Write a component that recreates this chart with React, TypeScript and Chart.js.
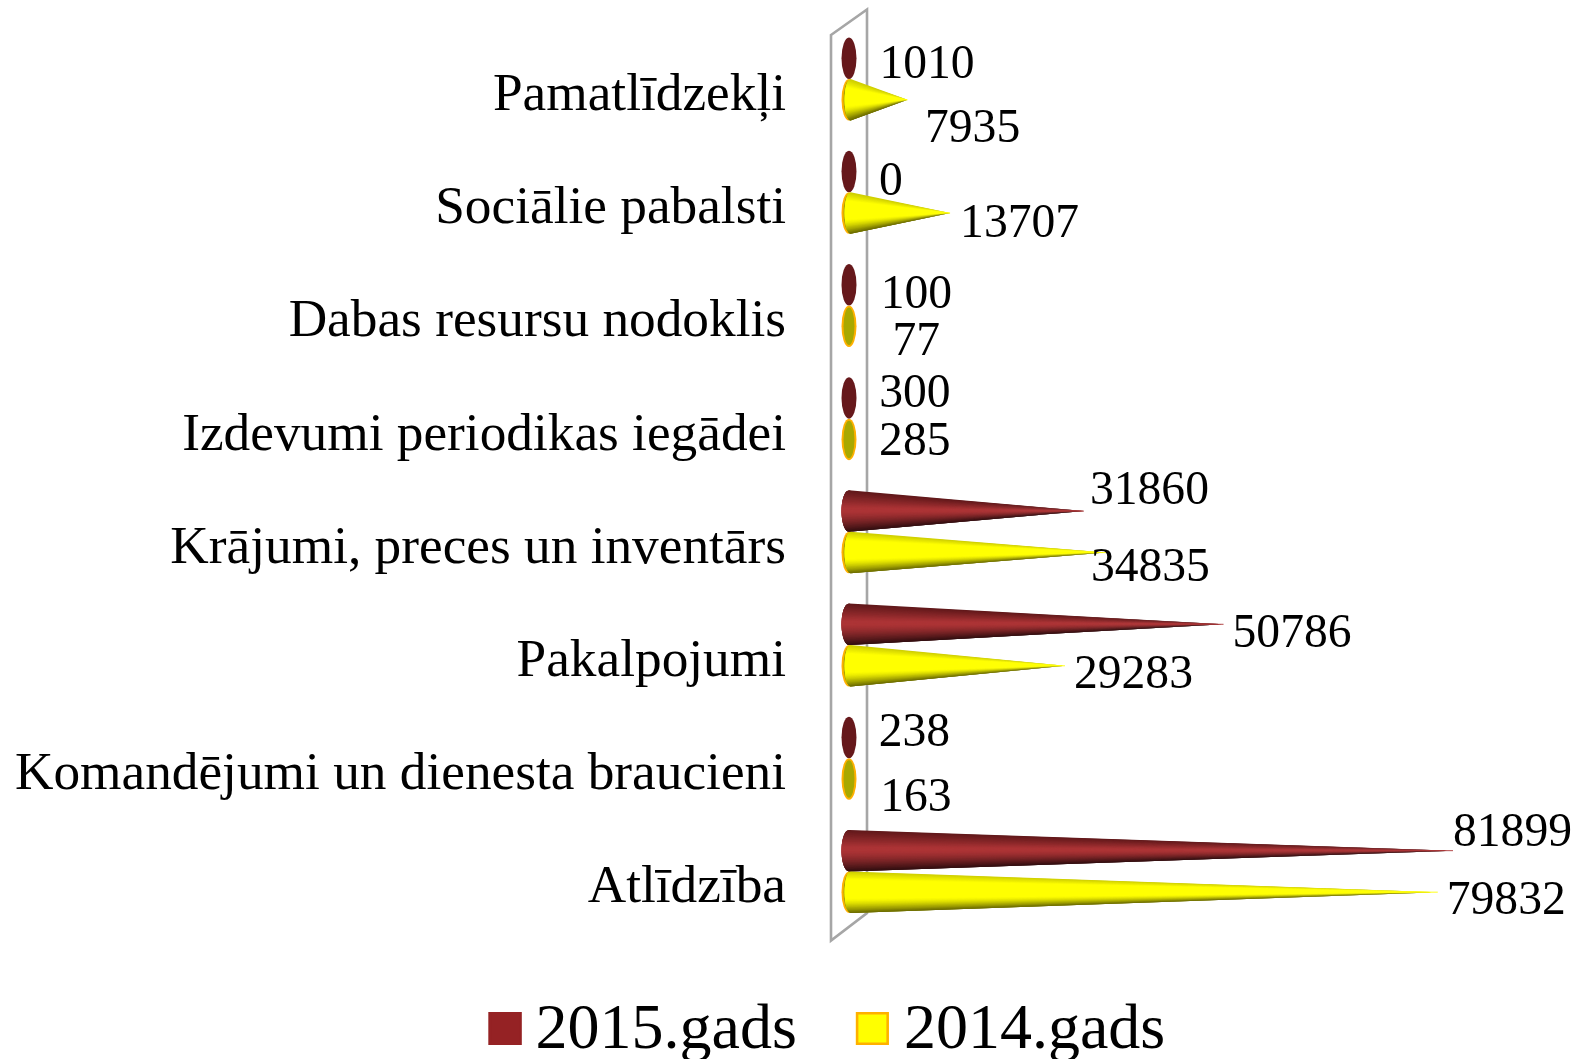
import React, { useEffect, useRef } from "react";
import { Chart, registerables } from "chart.js";

Chart.register(...registerables);

const categories = [
  "Pamatlīdzekļi",
  "Sociālie pabalsti",
  "Dabas resursu nodoklis",
  "Izdevumi periodikas iegādei",
  "Krājumi, preces un inventārs",
  "Pakalpojumi",
  "Komandējumi un dienesta braucieni",
  "Atlīdzība",
];
const values2015 = [1010, 0, 100, 300, 31860, 50786, 238, 81899];
const values2014 = [7935, 13707, 77, 285, 34835, 29283, 163, 79832];
// Hand-placed label offsets from each cone tip, as in the reference
const offsets2015 = [[23, 7.4], [30, 11.2], [31, 11], [28, -3.2], [6, -19.5], [9, 10.5], [28, -3.8], [0, -17]];
const offsets2014 = [[17.5, 29.4], [10, 11.2], [43, 16], [28, 2.8], [-15, 15.5], [9, 9.5], [30, 19.2], [9, 9]];

const FONT = '"Liberation Serif", "Times New Roman", serif';
const LABEL_PX = 47.6;
const RX = 7.5;

type Shade = { top: number[]; mid: number[]; bottom: number[]; a: number; b: number; edge: string | null; back: string };
const SHADES: Shade[] = [
  { top: [95, 24, 26], mid: [172, 52, 54], bottom: [48, 14, 16], a: 0.42, b: 0.5, edge: null, back: "#66181b" },
  { top: [205, 205, 0], mid: [255, 255, 0], bottom: [105, 105, 0], a: 0.2, b: 0.65, edge: "#ffb000", back: "#a8a800" },
];

function shadeAt(s: Shade, t: number) {
  const mix = (p: number[], q: number[], k: number) =>
    `rgb(${p.map((v, i) => Math.round(v + (q[i] - v) * k)).join(",")})`;
  if (t < s.a) return mix(s.top, s.mid, t / s.a);
  if (t <= s.b) return mix(s.mid, s.mid, 0);
  return mix(s.mid, s.bottom, Math.pow((t - s.b) / (1 - s.b), 1.4));
}

function drawCone(ctx: CanvasRenderingContext2D, cx: number, tip: number, y: number, h: number, s: Shade) {
  const ry = h / 2;
  ctx.save();
  if (s.edge) {
    ctx.beginPath();
    ctx.ellipse(cx, y, RX, ry, 0, 0, Math.PI * 2);
    ctx.fillStyle = s.edge;
    ctx.fill();
  }
  const t = s.edge ? 2 : 0;
  ctx.beginPath();
  ctx.ellipse(cx, y, RX - t, ry - t, 0, 0, Math.PI * 2);
  ctx.fillStyle = s.back;
  ctx.fill();

  if (tip - cx > RX) {
    const N = 60;
    const inset = s.edge ? 1.6 : 0;
    const px = (v: number) => cx + inset - (RX - inset) * Math.sqrt(Math.max(0, 1 - (2 * v - 1) * (2 * v - 1)));
    for (let i = 0; i < N; i++) {
      // each sliver overlaps the next one, so no seams show between them
      const t1 = i / N;
      const t2 = Math.min(1, (i + 3) / N);
      const t3 = (i + 1.5) / N;
      ctx.beginPath();
      ctx.moveTo(tip, y);
      ctx.lineTo(px(t1), y - ry + t1 * h);
      ctx.lineTo(px(t3), y - ry + Math.min(1, t3) * h);
      ctx.lineTo(px(t2), y - ry + t2 * h);
      ctx.closePath();
      ctx.fillStyle = shadeAt(s, (i + 0.5) / N);
      ctx.fill();
    }
    // keeps the needle-thin end of the cone visible up to its tip
    ctx.beginPath();
    ctx.moveTo(cx + (tip - cx) * 0.8, y);
    ctx.lineTo(tip, y);
    ctx.strokeStyle = shadeAt(s, 0.5);
    ctx.lineWidth = 0.9;
    ctx.stroke();
  }
  ctx.restore();
}

const conePlugin = {
  id: "cones",
  afterLayout(chart: any) {
    const legend = chart.legend;
    legend.left += 70;
    legend.right += 70;
    legend.top += 12;
    legend.bottom += 12;
  },
  beforeDatasetsDraw(chart: any) {
    const { ctx, chartArea: a } = chart;
    // side wall behind the cones
    ctx.save();
    ctx.strokeStyle = "#a6a6a6";
    ctx.lineWidth = 2.6;
    ctx.lineJoin = "miter";
    ctx.beginPath();
    ctx.moveTo(a.left - 18, a.top + 12.5);
    ctx.lineTo(a.left + 18, a.top - 13);
    ctx.lineTo(a.left + 18, a.bottom - 15);
    ctx.lineTo(a.left - 18, a.bottom + 12.5);
    ctx.closePath();
    ctx.stroke();
    ctx.restore();
    const x0 = chart.scales.x.getPixelForValue(0);
    chart.data.datasets.forEach((_: any, di: number) => {
      chart.getDatasetMeta(di).data.forEach((bar: any) => {
        const p = bar.getProps(["x", "y", "height"], true);
        drawCone(ctx, x0, p.x, p.y, p.height, SHADES[di]);
      });
    });
  },
  beforeDatasetDraw() {
    return false;
  },
  afterDatasetsDraw(chart: any) {
    const { ctx } = chart;
    ctx.save();
    ctx.font = `${LABEL_PX}px ${FONT}`;
    ctx.fillStyle = "#000";
    ctx.textAlign = "left";
    ctx.textBaseline = "middle";
    const sets = [offsets2015, offsets2014];
    chart.data.datasets.forEach((ds: any, di: number) => {
      chart.getDatasetMeta(di).data.forEach((bar: any, i: number) => {
        const p = bar.getProps(["x", "y"], true);
        ctx.fillText(String(ds.data[i]), p.x + sets[di][i][0], p.y + sets[di][i][1]);
      });
    });
    ctx.restore();
  },
  afterDraw(chart: any) {
    const { ctx, legend } = chart;
    ctx.save();
    const y = legend.top + legend.options.labels.padding + 32 - 19;
    legend.legendHitBoxes.forEach((hit: any, i: number) => {
      const ds = chart.data.datasets[i];
      const x = hit.left + (i === 0 ? 1 : 0);
      ctx.fillStyle = ds.backgroundColor;
      ctx.fillRect(x, y, 33, 33);
      ctx.strokeStyle = ds.borderColor;
      ctx.lineWidth = 2.5;
      ctx.strokeRect(x + 1.25, y + 1.25, 30.5, 30.5);
    });
    ctx.restore();
  },
};

export default function App() {
  const ref = useRef<HTMLCanvasElement | null>(null);
  useEffect(() => {
    if (!ref.current) return;
    const chart = new Chart(ref.current, {
      type: "bar",
      data: {
        labels: categories,
        datasets: [
          { label: "2015.gads", data: values2015, backgroundColor: "#952224", borderColor: "#952224" },
          { label: "2014.gads", data: values2014, backgroundColor: "#ffff00", borderColor: "#ffb000" },
        ],
      },
      options: {
        indexAxis: "y",
        animation: false,
        responsive: false,
        barThickness: 41.5,
        layout: { padding: { left: 0, right: 72.25, top: 22.5, bottom: -2 } },
        scales: {
          x: { display: false, min: 0, max: 90000 },
          y: {
            afterFit(scale: any) {
              scale.width = 849;
              scale.paddingTop = 0;
              scale.paddingBottom = 0;
            },
            grid: { display: false, drawTicks: false },
            border: { display: false },
            ticks: {
              autoSkip: false,
              padding: 63,
              labelOffset: 17,
              color: "#000",
              font: { family: FONT, size: 53.3 },
            },
          },
        },
        plugins: {
          tooltip: { enabled: false },
          legend: {
            position: "bottom",
            labels: {
              boxWidth: 16,
              padding: 59,
              color: "#000",
              font: { family: FONT, size: 64 },
              generateLabels(c: any) {
                return c.data.datasets.map((d: any, i: number) => ({
                  text: d.label,
                  fillStyle: "transparent",
                  strokeStyle: "transparent",
                  lineWidth: 0,
                  datasetIndex: i,
                }));
              },
            },
          },
        },
      } as any,
      plugins: [conePlugin],
    } as any);
    return () => chart.destroy();
  }, []);
  return (
    <div style={{ position: "fixed", left: 0, top: 0, width: 1585, height: 1059, background: "#fff" }}>
      <canvas ref={ref} width={1585} height={1059} style={{ display: "block" }} />
    </div>
  );
}
